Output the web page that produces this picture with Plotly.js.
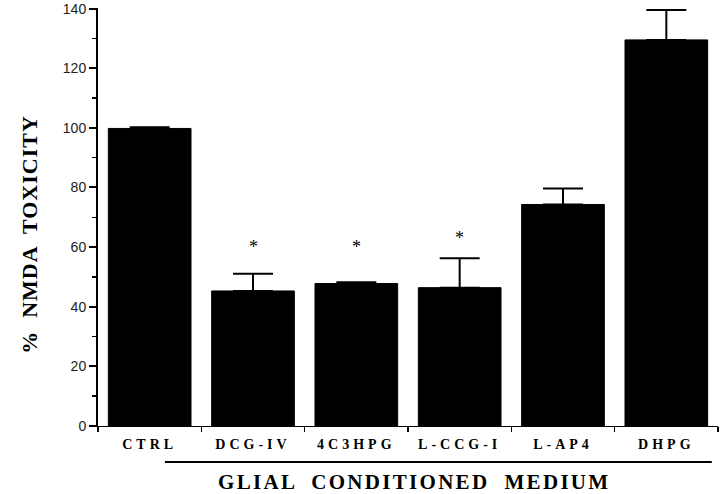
<!DOCTYPE html>
<html>
<head>
<meta charset="utf-8">
<script src="https://cdn.plot.ly/plotly-3.0.1.min.js"></script>
<style>html,body{margin:0;padding:0;background:#fff;}</style>
</head>
<body>
<div id="chart" style="width:720px;height:494px;"></div>
<script>
var categories = ["CTRL", "DCG-IV", "4C3HPG", "L-CCG-I", "L-AP4", "DHPG"];
var values = [99.8, 45.3, 47.8, 46.4, 74.3, 129.5];
var errors = [0.4, 5.8, 0.4, 9.9, 5.4, 10.0];
var significant = ["DCG-IV", "4C3HPG", "L-CCG-I"];
var asteriskY = [60, 60, 63];
var yTicks = [0, 20, 40, 60, 80, 100, 120, 140];

var serif = "Liberation Serif, Times New Roman, serif";

var trace = {
  type: "bar",
  x: categories,
  y: values,
  marker: {color: "#000", line: {color: "#000", width: 1}},
  error_y: {type: "data", array: errors, symmetric: false, arrayminus: errors.map(function(){return 0;}),
            color: "#000", thickness: 2, width: 20, visible: true},
  hoverinfo: "none"
};

var annotations = significant.map(function(c, i) {
  return {x: c, y: asteriskY[i], xref: "x", yref: "y", text: "*", showarrow: false,
          font: {family: serif, size: 18, color: "#000"}, yanchor: "middle"};
});
annotations.push({x: -0.11, y: 0.458, xref: "paper", yref: "paper", xanchor: "center", yanchor: "middle",
  text: "%  NMDA  TOXICITY",
  textangle: -90, showarrow: false, font: {family: serif, size: 22, color: "#000", weight: "bold"}});
annotations.push({x: 0.51, y: -0.135, xref: "paper", yref: "paper", text: "GLIAL  CONDITIONED  MEDIUM",
  showarrow: false, yanchor: "middle", font: {family: serif, size: 21, color: "#000", weight: "bold"}});

var layout = {
  width: 720, height: 494,
  margin: {l: 98, r: 2, t: 8, b: 68},
  paper_bgcolor: "#fff", plot_bgcolor: "#fff",
  showlegend: false,
  bargap: 0.2,
  xaxis: {
    type: "category", range: [-0.5, 5.5],
    showline: true, linecolor: "#000", linewidth: 1,
    ticks: "outside", tickson: "boundaries", ticklen: 5, tickwidth: 1.5, tickcolor: "#000",
    ticklabelstandoff: 5,
    tickfont: {family: serif, size: 14, color: "#000", weight: "bold"},
    showgrid: false, zeroline: false, fixedrange: true
  },
  yaxis: {
    range: [0, 140.2], tickvals: yTicks, ticktext: yTicks.map(String),
    showline: true, linecolor: "#000", linewidth: 2,
    ticks: "outside", ticklen: 7, tickwidth: 2, tickcolor: "#000",
    minor: {dtick: 10, ticks: "outside", ticklen: 4, tickwidth: 1.5, tickcolor: "#000"},
    tickfont: {family: "Liberation Sans, Arial, sans-serif", size: 14, color: "#222"},
    showgrid: false, zeroline: false, fixedrange: true
  },
  shapes: [{type: "line", xref: "paper", yref: "paper", x0: 0.108, x1: 0.99, y0: -0.086, y1: -0.086,
            line: {color: "#000", width: 2}}],
  annotations: annotations
};

function spacing(gd) {
  gd.querySelectorAll(".xtick text").forEach(function(t) { t.setAttribute("letter-spacing", "4px"); });
  var anns = gd.querySelectorAll(".annotation-text");
  anns.forEach(function(t) {
    var s = t.textContent;
    if (s.indexOf("GLIAL") === 0) t.setAttribute("letter-spacing", "2.3px");
    if (s.indexOf("NMDA") >= 0) t.setAttribute("letter-spacing", "1px");
  });
}

Plotly.newPlot("chart", [trace], layout, {displayModeBar: false, staticPlot: true}).then(spacing);
</script>
</body>
</html>
